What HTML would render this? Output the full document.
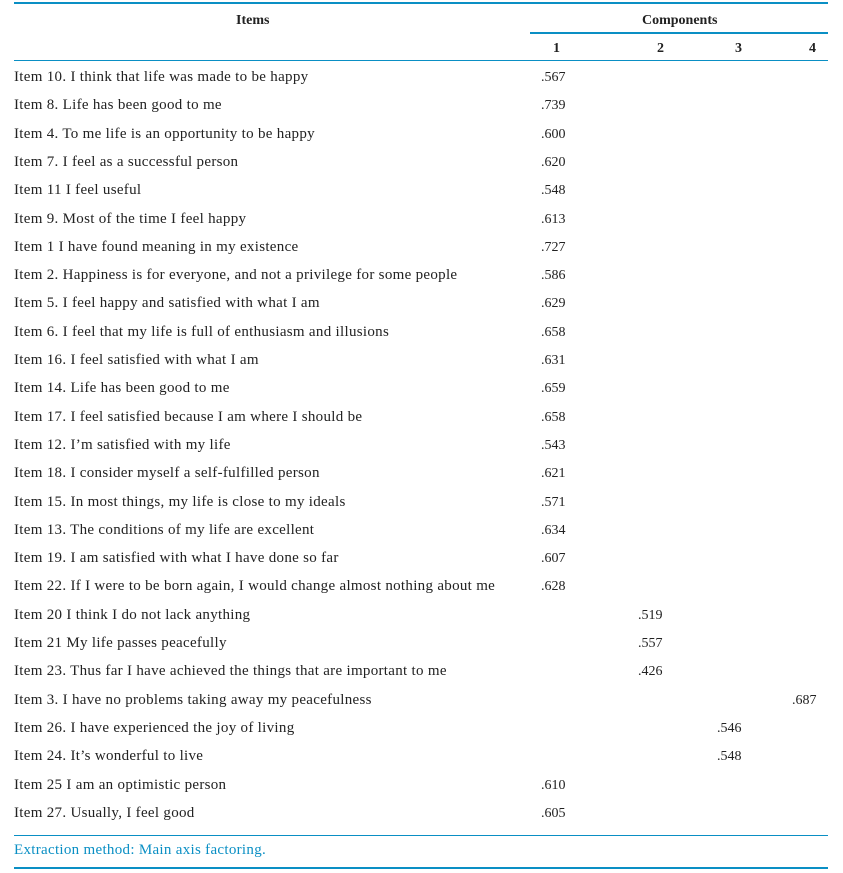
<!DOCTYPE html>
<html><head><meta charset="utf-8"><style>
body{margin:0;width:843px;height:873px;background:#fff;position:relative;font-family:"Liberation Serif",serif;color:#222;font-size:14px;}
.l{position:absolute;background:#0a8fc4;}
.t{position:absolute;white-space:nowrap;line-height:16px;}
.i{font-size:15px;letter-spacing:0.3px;}
.b{font-weight:bold;}
</style></head><body>
<div class="l" style="left:14px;top:2px;width:814px;height:2px"></div>
<div class="l" style="left:530px;top:32px;width:298px;height:2px"></div>
<div class="l" style="left:14px;top:60px;width:814px;height:1px"></div>
<div class="l" style="left:14px;top:835px;width:814px;height:1px"></div>
<div class="l" style="left:14px;top:867px;width:814px;height:2px"></div>
<div class="t b" style="left:236px;top:13px">Items</div>
<div class="t b" style="left:642px;top:13px">Components</div>
<div class="t b" style="left:553px;top:41px">1</div>
<div class="t b" style="left:657px;top:41px">2</div>
<div class="t b" style="left:735px;top:41px">3</div>
<div class="t b" style="left:809px;top:41px">4</div>
<div class="t i" style="left:14px;top:842px;color:#0a8fc4">Extraction method: Main axis factoring.</div>
<div id="rows"></div>
<script>
var r=[["Item 10. I think that life was made to be happy",".567",0],["Item 8. Life has been good to me",".739",0],["Item 4. To me life is an opportunity to be happy",".600",0],["Item 7. I feel as a successful person",".620",0],["Item 11 I feel useful",".548",0],["Item 9. Most of the time I feel happy",".613",0],["Item 1 I have found meaning in my existence",".727",0],["Item 2. Happiness is for everyone, and not a privilege for some people",".586",0],["Item 5. I feel happy and satisfied with what I am",".629",0],["Item 6. I feel that my life is full of enthusiasm and illusions",".658",0],["Item 16. I feel satisfied with what I am",".631",0],["Item 14. Life has been good to me",".659",0],["Item 17. I feel satisfied because I am where I should be",".658",0],["Item 12. I’m satisfied with my life",".543",0],["Item 18. I consider myself a self-fulfilled person",".621",0],["Item 15. In most things, my life is close to my ideals",".571",0],["Item 13. The conditions of my life are excellent",".634",0],["Item 19. I am satisfied with what I have done so far",".607",0],["Item 22. If I were to be born again, I would change almost nothing about me",".628",0],["Item 20 I think I do not lack anything",".519",1],["Item 21 My life passes peacefully",".557",1],["Item 23. Thus far I have achieved the things that are important to me",".426",1],["Item 3. I have no problems taking away my peacefulness",".687",3],["Item 26. I have experienced the joy of living",".546",2],["Item 24. It’s wonderful to live",".548",2],["Item 25 I am an optimistic person",".610",0],["Item 27. Usually, I feel good",".605",0]];
var xs=[541,638,717,792],h="";
r.forEach(function(a,i){var y=69+i*28.3;h+='<div class="t i" style="left:14px;top:'+y+'px">'+a[0]+'</div><div class="t" style="left:'+xs[a[2]]+'px;top:'+(y+1)+'px">'+a[1]+'</div>';});
document.getElementById("rows").innerHTML=h;
</script>
</body></html>
